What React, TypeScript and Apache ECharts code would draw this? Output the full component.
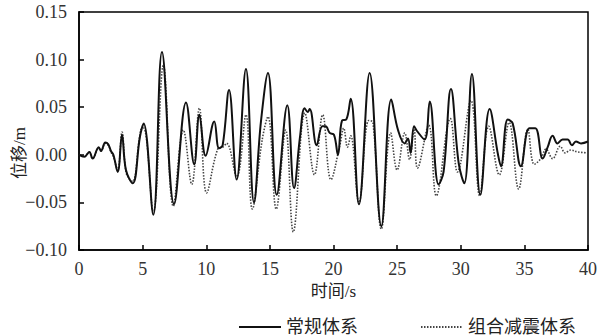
import React, { useEffect, useRef } from "react";
import * as echarts from "echarts";

// time (s) of each read point
const solidT = [0, 0.42, 0.81, 1.07, 1.55, 1.73, 2.07, 2.3, 2.51, 2.7, 3.04, 3.38, 3.69, 4.22, 4.79, 5.08, 5.84, 6.52, 7.47, 8.41, 9.06, 9.46, 9.95, 10.63, 11.0, 11.29, 11.79, 12.39, 13.12, 13.75, 14.3, 14.85, 15.54, 16.37, 16.9, 17.37, 17.73, 17.97, 18.13, 18.68, 19.12, 19.38, 19.7, 20.04, 20.35, 20.67, 21.0, 21.35, 22.0, 22.84, 23.76, 24.54, 25.07, 25.59, 25.85, 26.06, 26.33, 26.56, 27.16, 27.56, 28.26, 28.65, 29.23, 29.84, 30.28, 30.88, 31.54, 32.27, 32.93, 33.16, 33.69, 34.08, 34.73, 35.39, 35.86, 36.44, 36.83, 37.22, 37.6, 38.0, 38.4, 38.74, 39.05, 39.45, 40];
// displacement (m) of the conventional system
const solidV = [0, -0.002, 0.003, -0.004, 0.008, 0.004, 0.013, 0.011, 0.004, 0, -0.018, 0.021, -0.016, -0.03, 0.019, 0.033, -0.063, 0.108, -0.052, 0.055, -0.01, 0.042, -0.001, 0.035, 0.007, 0.01, 0.068, -0.026, 0.09, -0.05, 0.035, 0.086, -0.042, 0.052, -0.035, 0.019, 0.049, 0.045, 0.048, 0.01, 0.03, 0.03, 0.023, 0.021, 0.0, 0.036, 0.037, 0.059, -0.052, 0.086, -0.075, 0.058, 0.026, 0.012, 0.017, 0.002, 0.03, 0.025, 0.016, 0.056, -0.031, -0.018, 0.069, -0.009, -0.03, 0.085, -0.042, 0.048, 0.0, -0.012, 0.037, 0.033, -0.012, 0.028, 0.028, -0.004, 0.008, 0.02, 0.012, 0.016, 0.016, 0.01, 0.014, 0.012, 0.014];

const dottedT = [0, 0.42, 0.81, 1.07, 1.55, 1.73, 2.07, 2.3, 2.51, 2.7, 3.04, 3.38, 3.69, 4.0, 4.22, 4.85, 5.08, 5.84, 6.63, 7.41, 8.2, 8.86, 9.46, 10.03, 10.9, 11.3, 11.6, 12.39, 13.12, 13.62, 14.4, 14.85, 15.5, 16.24, 16.84, 17.75, 18.5, 19.15, 19.8, 20.5, 20.8, 21.1, 21.35, 22.0, 22.77, 23.1, 23.76, 24.49, 25.0, 25.6, 25.98, 26.33, 26.6, 27.48, 28.08, 29.18, 29.74, 30.8, 31.49, 32.2, 33.03, 33.8, 34.55, 35.27, 35.78, 36.3, 36.7, 37.22, 37.82, 38.2, 38.65, 39.2, 40];
// displacement (m) of the combined damping system
const dottedV = [0, -0.002, 0.003, -0.004, 0.007, 0.004, 0.012, 0.01, 0.003, -0.002, -0.016, 0.024, -0.018, -0.026, -0.028, 0.026, 0.028, -0.06, 0.094, -0.054, 0.026, -0.031, 0.049, -0.04, 0.006, 0.008, 0.012, -0.023, 0.042, -0.057, 0.016, 0.04, -0.057, 0.026, -0.081, 0.044, -0.021, 0.042, -0.026, 0.01, 0.028, 0.008, 0.02, -0.05, 0.036, 0.034, -0.078, 0.023, -0.016, 0.023, -0.005, 0.027, -0.014, 0.031, -0.043, 0.038, -0.018, 0.057, -0.043, 0.03, -0.021, 0.034, -0.036, 0.027, -0.01, -0.004, 0.006, -0.004, 0.009, 0.002, 0.005, 0.003, 0.002];

const seriesNames = ["常规体系", "组合减震体系"];
const xTicks = { min: 0, max: 40, interval: 5 };
const yTicks = { min: -0.1, max: 0.15, interval: 0.05 };
const xName = "时间/s";
const yName = "位移/m";

const serif = "'Liberation Serif', 'Noto Sans CJK SC', serif";

export default function App() {
  const ref = useRef<HTMLDivElement>(null);
  useEffect(() => {
    document.body.style.margin = "0";
    if (!ref.current) return;
    const chart = echarts.init(ref.current, null, { renderer: "svg" });
    const solid = solidT.map((t, i) => [t, solidV[i]]);
    const dotted = dottedT.map((t, i) => [t, dottedV[i]]);
    chart.setOption({
      animation: false,
      backgroundColor: "#fff",
      grid: {
        left: 79,
        right: 9,
        top: 12,
        bottom: 86,
        show: true,
        borderColor: "#000",
        borderWidth: 1.5,
        outerBoundsMode: "none",
        containLabel: false,
      },
      graphic: [
        {
          type: "text",
          x: 19,
          y: 153,
          rotation: Math.PI / 2,
          style: {
            text: yName,
            fontFamily: serif,
            fontSize: 17,
            fill: "#222",
            align: "center",
            verticalAlign: "middle",
          },
        },
      ],
      legend: {
        data: seriesNames,
        top: 313,
        left: 233,
        itemWidth: 42,
        itemHeight: 10,
        itemGap: 62,
        itemTextGap: 10,
        itemStyle: { opacity: 0 },
        textStyle: { fontFamily: serif, fontSize: 18, color: "#222" },
      },
      xAxis: {
        type: "value",
        min: xTicks.min,
        max: xTicks.max,
        interval: xTicks.interval,
        name: xName,
        nameLocation: "middle",
        nameGap: 32,
        nameTextStyle: { fontFamily: serif, fontSize: 17, color: "#222" },
        axisLine: { onZero: false, lineStyle: { color: "#000", width: 1.5 } },
        axisTick: { inside: true, length: 5, lineStyle: { color: "#000", width: 1.5 } },
        axisLabel: { fontFamily: serif, fontSize: 18, color: "#333", margin: 10 },
        splitLine: { show: false },
      },
      yAxis: {
        type: "value",
        min: yTicks.min,
        max: yTicks.max,
        interval: yTicks.interval,
        axisLine: { onZero: false, lineStyle: { color: "#000", width: 1.5 } },
        axisTick: { inside: true, length: 5, lineStyle: { color: "#000", width: 1.5 } },
        axisLabel: {
          fontFamily: serif,
          fontSize: 18,
          color: "#333",
          margin: 12,
          formatter: (v: number) => (v < -1e-9 ? "−" : "") + Math.abs(v).toFixed(2),
        },
        splitLine: { show: false },
      },
      series: [
        {
          name: seriesNames[0],
          type: "line",
          data: solid,
          symbol: "none",
          smooth: 0.4,
          lineStyle: { color: "#111", width: 2 },
          itemStyle: { color: "#111" },
          z: 3,
        },
        {
          name: seriesNames[1],
          type: "line",
          data: dotted,
          symbol: "none",
          smooth: 0.4,
          lineStyle: { color: "#444", width: 1.6, type: [1.5, 1.5] },
          itemStyle: { color: "#444" },
          z: 2,
        },
      ],
    });
    return () => chart.dispose();
  }, []);
  return <div ref={ref} style={{ width: 597, height: 336 }} />;
}
